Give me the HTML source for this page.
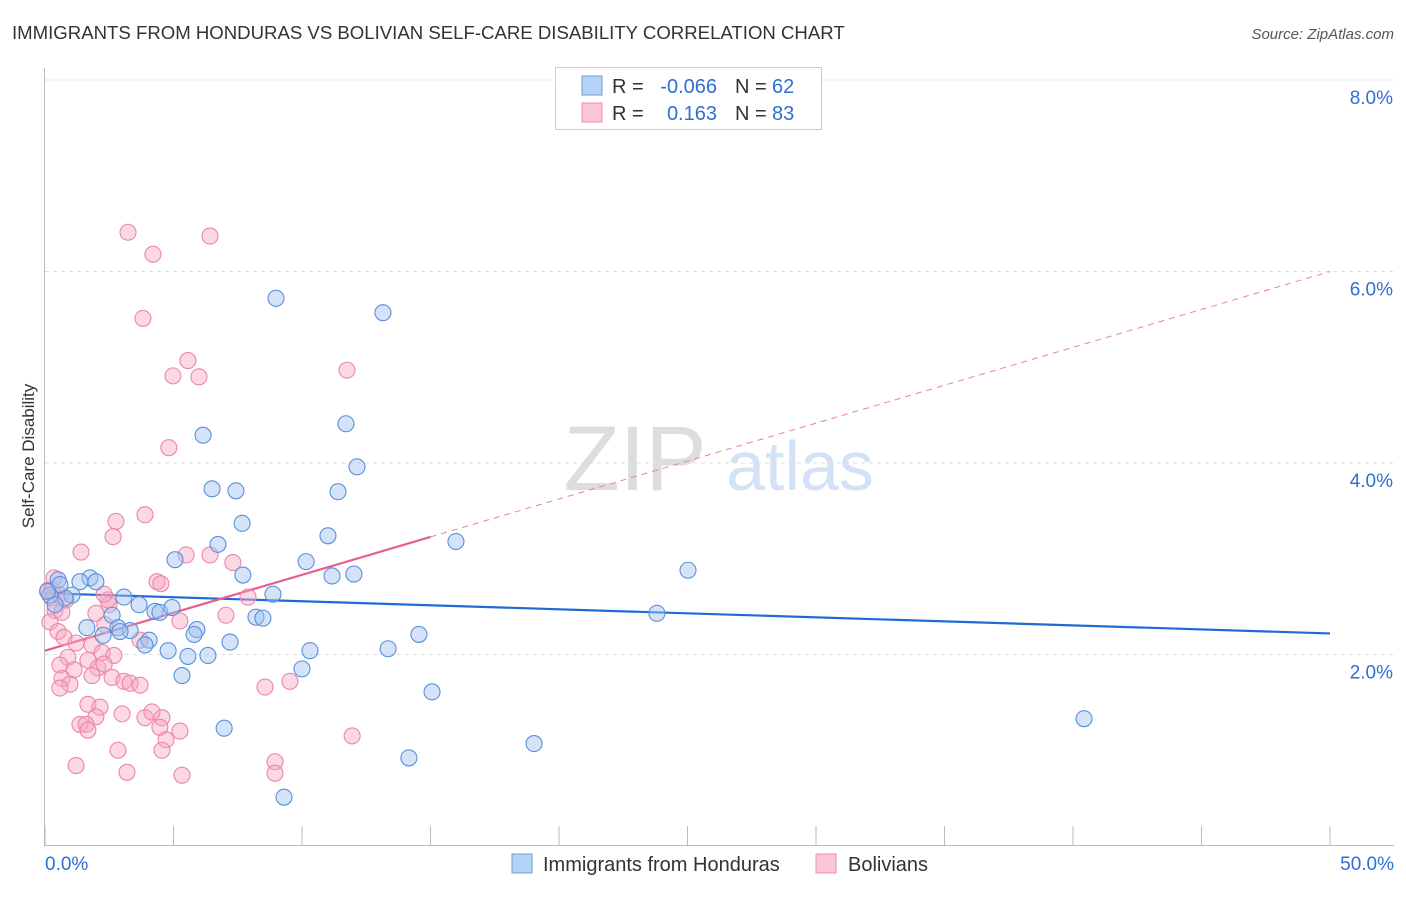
<!DOCTYPE html>
<html><head><meta charset="utf-8">
<style>
body{margin:0;background:#fff;font-family:"Liberation Sans",sans-serif;}
svg text{font-family:"Liberation Sans",sans-serif;}
</style></head>
<body>
<svg id="chart" width="1406" height="892" xmlns="http://www.w3.org/2000/svg">
<text x="12" y="39" font-size="18.6" fill="#333">IMMIGRANTS FROM HONDURAS VS BOLIVIAN SELF-CARE DISABILITY CORRELATION CHART</text>
<text x="1394" y="39" font-size="15" fill="#555" font-style="italic" text-anchor="end">Source: ZipAtlas.com</text>
<text x="34" y="456" font-size="17" fill="#333" text-anchor="middle" transform="rotate(-90 34 456)">Self-Care Disability</text>
<g>
<text x="635" y="490" font-size="92" fill="#ddd" font-family="Liberation Serif" text-anchor="middle">ZIP</text>
<text x="800" y="490" font-size="70" fill="#d4e2f5" text-anchor="middle">atlas</text>
</g>
<g id="grid"></g>
<g id="axes"></g>
<g id="trends"></g>
<g id="points"></g>
<g>
<rect x="555.5" y="67.5" width="266" height="62" fill="#fff" stroke="#ccc"/>
<rect x="582" y="76" width="20" height="19" fill="#b7d2f5" stroke="#6a9be0"/>
<rect x="582" y="103" width="20" height="19" fill="#fcc6d6" stroke="#ef8fae"/>
<text x="612" y="93" font-size="20" fill="#333">R = </text><text x="717" y="93" font-size="20" fill="#2f6ed4" text-anchor="end">-0.066</text>
<text x="735" y="93" font-size="20" fill="#333">N = </text><text x="772" y="93" font-size="20" fill="#2f6ed4">62</text>
<text x="612" y="120" font-size="20" fill="#333">R = </text><text x="717" y="120" font-size="20" fill="#2f6ed4" text-anchor="end">0.163</text>
<text x="735" y="120" font-size="20" fill="#333">N = </text><text x="772" y="120" font-size="20" fill="#2f6ed4">83</text>
</g>
<g>
<rect x="512" y="854" width="20" height="19" fill="#b7d2f5" stroke="#6a9be0"/>
<text x="543" y="871" font-size="20" fill="#333">Immigrants from Honduras</text>
<rect x="816" y="854" width="20" height="19" fill="#fcc6d6" stroke="#ef8fae"/>
<text x="848" y="871" font-size="20" fill="#333">Bolivians</text>
</g>
</svg>
<script>
const yTicks=[2,4,6,8];
const xTickLabels=["0.0%","50.0%"];
const blueX=[8.99,13.15,11.71,6.15,12.14,6.50,7.43,11.40,7.67,11.01,15.99,6.73,10.16,5.06,7.70,11.17,12.02,25.02,8.87,0.51,1.75,1.98,1.36,1.05,0.78,0.19,0.39,3.07,3.66,4.28,4.47,4.94,2.61,8.21,8.48,23.81,1.63,2.84,3.31,5.91,5.80,2.26,4.05,3.89,7.20,4.79,5.56,6.34,10.31,13.35,14.55,10.00,5.33,15.06,6.97,40.43,19.03,14.16,9.30,0.58,2.92,0.1];
const blueY=[5.72,5.57,4.41,4.29,3.96,3.73,3.71,3.70,3.37,3.24,3.18,3.15,2.97,2.99,2.83,2.82,2.84,2.88,2.63,2.78,2.80,2.76,2.76,2.62,2.59,2.62,2.52,2.60,2.52,2.45,2.44,2.49,2.41,2.39,2.38,2.43,2.28,2.28,2.25,2.26,2.21,2.20,2.15,2.10,2.13,2.04,1.98,1.99,2.04,2.06,2.21,1.85,1.78,1.61,1.23,1.33,1.07,0.92,0.51,2.73,2.24,2.66];
const pinkX=[3.23,6.42,4.20,3.81,5.56,4.98,5.99,11.75,4.82,3.89,2.76,2.65,1.40,5.49,4.36,4.51,7.31,2.49,1.98,0.12,0.27,0.39,0.66,0.19,0.51,5.25,7.04,2.45,0.74,1.21,1.83,2.22,0.89,1.67,2.68,0.58,1.13,2.06,2.30,0.66,0.97,1.83,2.61,3.07,3.31,3.70,8.56,9.53,0.58,1.67,2.14,1.98,3.00,1.36,1.60,3.89,4.55,4.16,4.47,5.25,1.67,4.71,4.55,2.84,11.95,1.21,3.19,5.33,8.95,8.95,0.58,0.35,0.82,2.30,6.42,7.90,0.27,3.70,2.33];
const pinkY=[6.41,6.37,6.18,5.51,5.07,4.91,4.90,4.97,4.16,3.46,3.39,3.23,3.07,3.04,2.76,2.74,2.96,2.52,2.43,2.67,2.59,2.46,2.44,2.34,2.24,2.35,2.41,2.57,2.18,2.12,2.10,2.02,1.97,1.94,1.99,1.89,1.84,1.86,1.90,1.75,1.69,1.78,1.76,1.72,1.70,1.68,1.66,1.72,1.65,1.48,1.45,1.35,1.38,1.27,1.27,1.34,1.34,1.40,1.24,1.20,1.21,1.11,1.00,1.00,1.15,0.84,0.77,0.74,0.88,0.76,2.62,2.80,2.57,2.63,3.04,2.60,2.67,2.15,2.31];
const blueTrend=[2.64,2.22];
const pinkTrend=[2.04,6.0];
const pinkSolidEnd=15;

const NS="http://www.w3.org/2000/svg";
const X0=45,X1=1330,Y0=846,PY=95.75;
function sx(v){return X0+(X1-X0)*v/50;}
function sy(v){return Y0-v*PY;}
function mk(tag,attrs,parent){const e=document.createElementNS(NS,tag);for(const k in attrs)e.setAttribute(k,attrs[k]);parent.appendChild(e);return e;}
const grid=document.getElementById('grid'),axes=document.getElementById('axes'),trends=document.getElementById('trends'),pts=document.getElementById('points');
yTicks.forEach(t=>{
  const l=mk('line',{x1:45,x2:1394,y1:sy(t),y2:sy(t),stroke:'#ddd','stroke-dasharray':'4,4'},grid);
  
  
  const tx=mk('text',{x:1393,y:sy(t)+24,'font-size':19,fill:'#2f6ed4','text-anchor':'end'},grid);
  tx.textContent=t.toFixed(1)+'%';
  
  
});
const ax=mk('line',{x1:45,x2:1394,y1:845.5,y2:845.5,stroke:'#bbb'},axes);


const ay=mk('line',{x1:44.5,x2:44.5,y1:68,y2:846,stroke:'#bbb'},axes);


for(let i=0;i<=10;i++){
  const t=mk('line',{x1:sx(i*5),x2:sx(i*5),y1:826,y2:846,stroke:'#bbb'},axes);
  
  
}
[[0,'start'],[50,'end']].forEach((p,i)=>{
  const tx=mk('text',{x:i?1394:45,y:870,'font-size':19,fill:'#2f6ed4','text-anchor':p[1]},axes);
  tx.textContent=xTickLabels[i];
  
  
});
function drawPts(xs,ys,fill,stroke,name){
  xs.forEach((x,i)=>{
    const c=mk('circle',{cx:sx(x),cy:sy(ys[i]),r:8,fill:fill,'fill-opacity':0.45,stroke:stroke,'stroke-width':1.1},pts);
    
    
  });
}
drawPts(pinkX,pinkY,'#f7a9c0','#ec86a6','bolivians-point');
drawPts(blueX,blueY,'#9fc2ef','#5a90da','honduras-point');
const bt=mk('line',{x1:sx(0),y1:sy(blueTrend[0]),x2:sx(50),y2:sy(blueTrend[1]),stroke:'#1f6ad6','stroke-width':2.2},trends);


const pe=pinkTrend[0]+(pinkTrend[1]-pinkTrend[0])*pinkSolidEnd/50;
const ps=mk('line',{x1:sx(0),y1:sy(pinkTrend[0]),x2:sx(pinkSolidEnd),y2:sy(pe),stroke:'#e45f8c','stroke-width':2.2},trends);


const pd=mk('line',{x1:sx(pinkSolidEnd),y1:sy(pe),x2:sx(50),y2:sy(pinkTrend[1]),stroke:'#e8819f','stroke-width':1,'stroke-dasharray':'6,5'},trends);


</script>
</body></html>
